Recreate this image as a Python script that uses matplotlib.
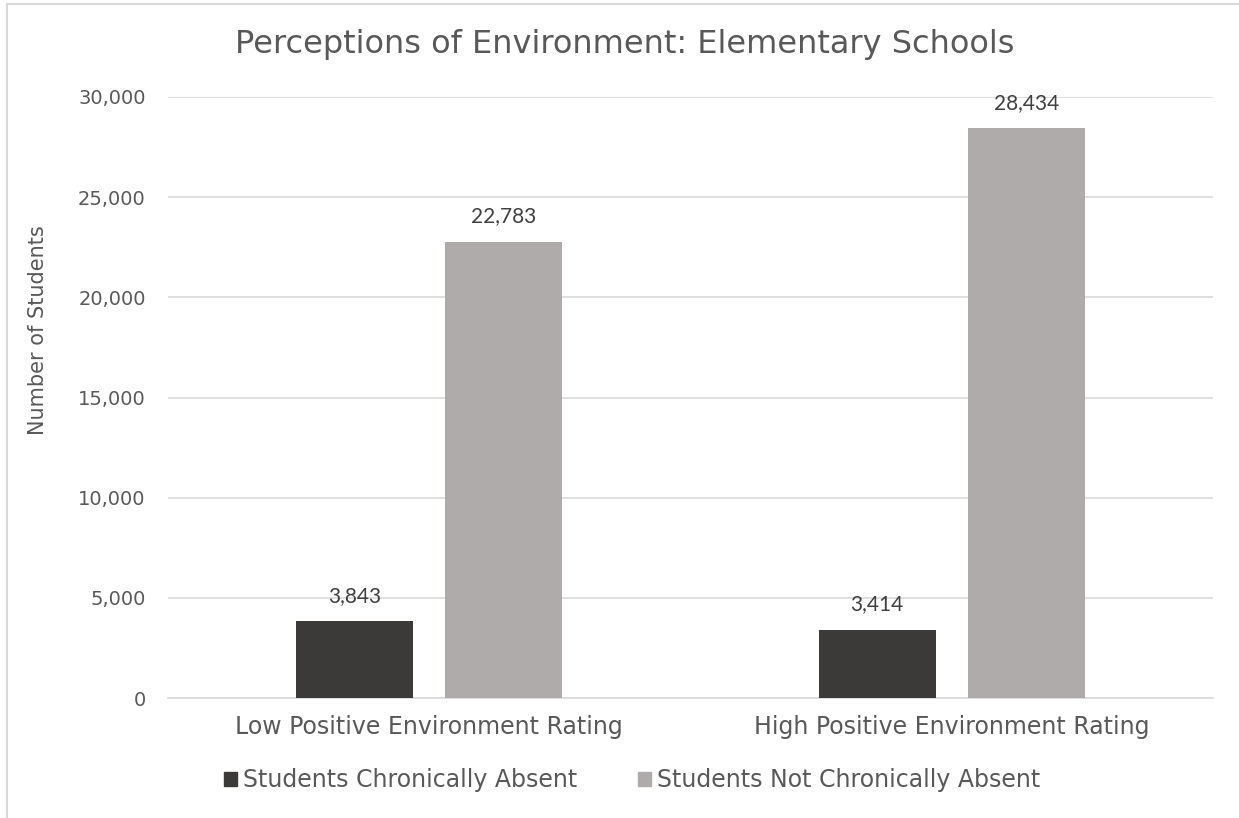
import matplotlib.pyplot as plt
from matplotlib.lines import Line2D
from matplotlib.patches import Patch
import numpy as np

categories = ["Low Positive Environment Rating", "High Positive Environment Rating"]
series_names = ["Students Chronically Absent", "Students Not Chronically Absent"]
absent = [3843, 3414]
not_absent = [22783, 28434]
yticks = [0, 5000, 10000, 15000, 20000, 25000, 30000]

DARK = "#3b3a38"
LIGHT = "#aeabaa"
TEXT = "#595959"
GRID = "#d9d9d9"

plt.rcParams["font.family"] = ["DejaVu Sans"]

fig = plt.figure(figsize=(12.39, 8.18), dpi=100)
W, H = 1239, 818
ax = fig.add_axes([168 / W, 1 - 698 / H, (1213 - 168) / W, (698 - 97) / H])

x = np.arange(len(categories))
bar_w = 0.224
offset = 0.1426
b1 = ax.bar(x - offset, absent, bar_w, color=DARK, zorder=3)
b2 = ax.bar(x + offset, not_absent, bar_w, color=LIGHT, zorder=3)

# value labels above each bar
for bars, vals in ((b1, absent), (b2, not_absent)):
    for rect, v in zip(bars, vals):
        ax.annotate(f"{v:,}", (rect.get_x() + rect.get_width() / 2, v),
                    xytext=(0, 11), textcoords="offset points",
                    ha="center", va="bottom", fontsize=15, color="#404040",
                    family=["Lato", "DejaVu Sans"])

ax.set_xlim(-0.5, 1.5)
ax.set_ylim(0, 30000)
ax.set_yticks(yticks)
ax.set_yticklabels([f"{t:,}" for t in yticks])
ax.set_xticks(x)
ax.set_xticklabels(categories)
ax.tick_params(axis="both", length=0, colors=TEXT)
ax.tick_params(axis="y", pad=16, labelsize=14)
ax.tick_params(axis="x", pad=12, labelsize=17)
ax.grid(axis="y", color=GRID, linewidth=1.2, zorder=0)
for s in ("top", "right", "left"):
    ax.spines[s].set_visible(False)
ax.spines["bottom"].set_color(GRID)
ax.spines["bottom"].set_linewidth(1.2)

fig.text(38 / W, 1 - 330 / H, "Number of Students", rotation=90,
         ha="center", va="center", fontsize=15, color=TEXT)
fig.text(625 / W, 1 - 45 / H, "Perceptions of Environment: Elementary Schools",
         ha="center", va="center", fontsize=23, color=TEXT)

handles = [Patch(color=DARK), Patch(color=LIGHT)]
fig.legend(handles, series_names, loc="center", bbox_to_anchor=(632 / W, 1 - 780 / H),
           ncol=2, frameon=False, fontsize=17, labelcolor=TEXT,
           handlelength=0.55, handleheight=0.55, handletextpad=0.25, columnspacing=2.6)

# thin frame along top and left edges
fig.add_artist(Line2D([7 / W, 1], [1 - 4 / H, 1 - 4 / H], color=GRID, linewidth=1.5))
fig.add_artist(Line2D([7 / W, 7 / W], [0, 1 - 4 / H], color=GRID, linewidth=1.5))

fig.savefig("out.png", dpi=100, facecolor="white")
